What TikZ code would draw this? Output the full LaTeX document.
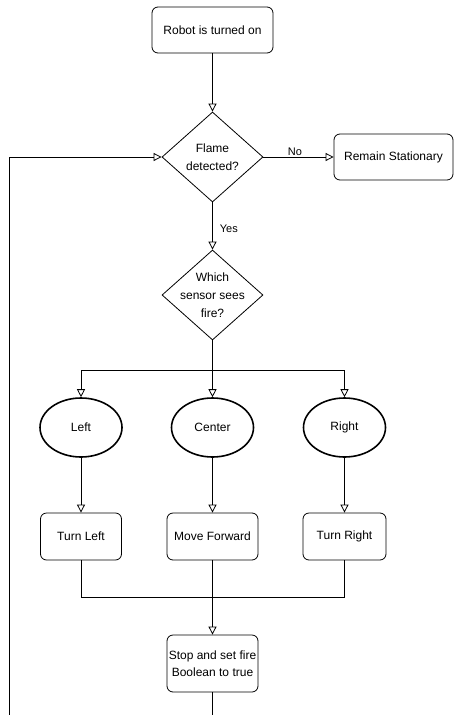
\documentclass[tikz,border=0pt]{standalone}
\usepackage{fontspec}
\setmainfont{Liberation Sans}
\usetikzlibrary{shapes.geometric,arrows.meta}
\begin{document}
\begin{tikzpicture}[x=1pt,y=-1pt,
  every node/.style={font=\fontsize{12}{17}\selectfont},
  box/.style={draw, rounded corners=6pt, line width=0.8pt, align=center, inner sep=0pt},
  dec/.style={draw, diamond, line width=0.8pt, inner sep=0pt, minimum width=101pt, minimum height=90pt},
  oval/.style={draw, ellipse, line width=1.6pt, minimum width=82pt, minimum height=59pt, inner sep=0pt},
  conn/.style={line width=0.8pt},
  arr/.style={conn, -{Triangle[open, length=8pt, width=8pt]}},
  lbl/.style={font=\fontsize{11}{13}\selectfont, inner sep=1pt}
]
\useasboundingbox (0,0) rectangle (453,715);
\node[box, minimum width=121pt, minimum height=46pt] (start) at (212.5,30) {Robot is turned on};
\node[dec, label={[align=center, font=\fontsize{12}{18}\selectfont]center:Flame\\detected?}] (flame) at (212.5,157) {};
\node[box, minimum width=119pt, minimum height=46pt] (stay) at (393.5,157) {Remain Stationary};
\node[dec, label={[align=center, font=\fontsize{12}{18}\selectfont]center:Which\\sensor sees\\fire?}] (which) at (212.5,295) {};
\coordinate (split) at (212.5,370);
\node[oval] (left) at (81,427.5) {Left};
\node[oval] (center) at (212.5,427.5) {Center};
\node[oval] (right) at (344.5,427.5) {Right};
\node[box, minimum width=81pt, minimum height=47pt] (tl) at (81,536.5) {Turn Left};
\node[box, minimum width=91pt, minimum height=47pt] (mf) at (212.5,536.5) {Move Forward};
\node[box, minimum width=83pt, minimum height=47pt] (tr) at (344.5,536.5) {Turn Right};
\coordinate (join) at (212.5,597);
\node[box, minimum width=91pt, minimum height=57pt] (stop) at (212.5,663.5) {Stop and set fire\\Boolean to true};
\coordinate (bot) at (212.5,716);
\coordinate (loopbot) at (9,716);
\coordinate (loopturn) at (9,157);

\draw[arr] (start) -- (flame);
\draw[arr] (flame) -- node[lbl, above, pos=0.45] {No} (stay);
\draw[arr] (flame) -- node[lbl, right, pos=0.55, xshift=6pt] {Yes} (which);
\draw[conn] (which.south) -- (split);
\draw[arr] (split) -| (left.north);
\draw[arr] (split) -- (center.north);
\draw[arr] (split) -| (right.north);
\draw[arr] (left) -- (tl);
\draw[arr] (center) -- (mf);
\draw[arr] (right) -- (tr);
\draw[conn] (tl.south) |- (join);
\draw[conn] (tr.south) |- (join);
\draw[arr] (mf.south) -- (stop.north);
\draw[conn] (stop.south) -- (bot);
\draw[arr] (loopbot) -- (loopturn) -- (flame.west);
\end{tikzpicture}
\end{document}
